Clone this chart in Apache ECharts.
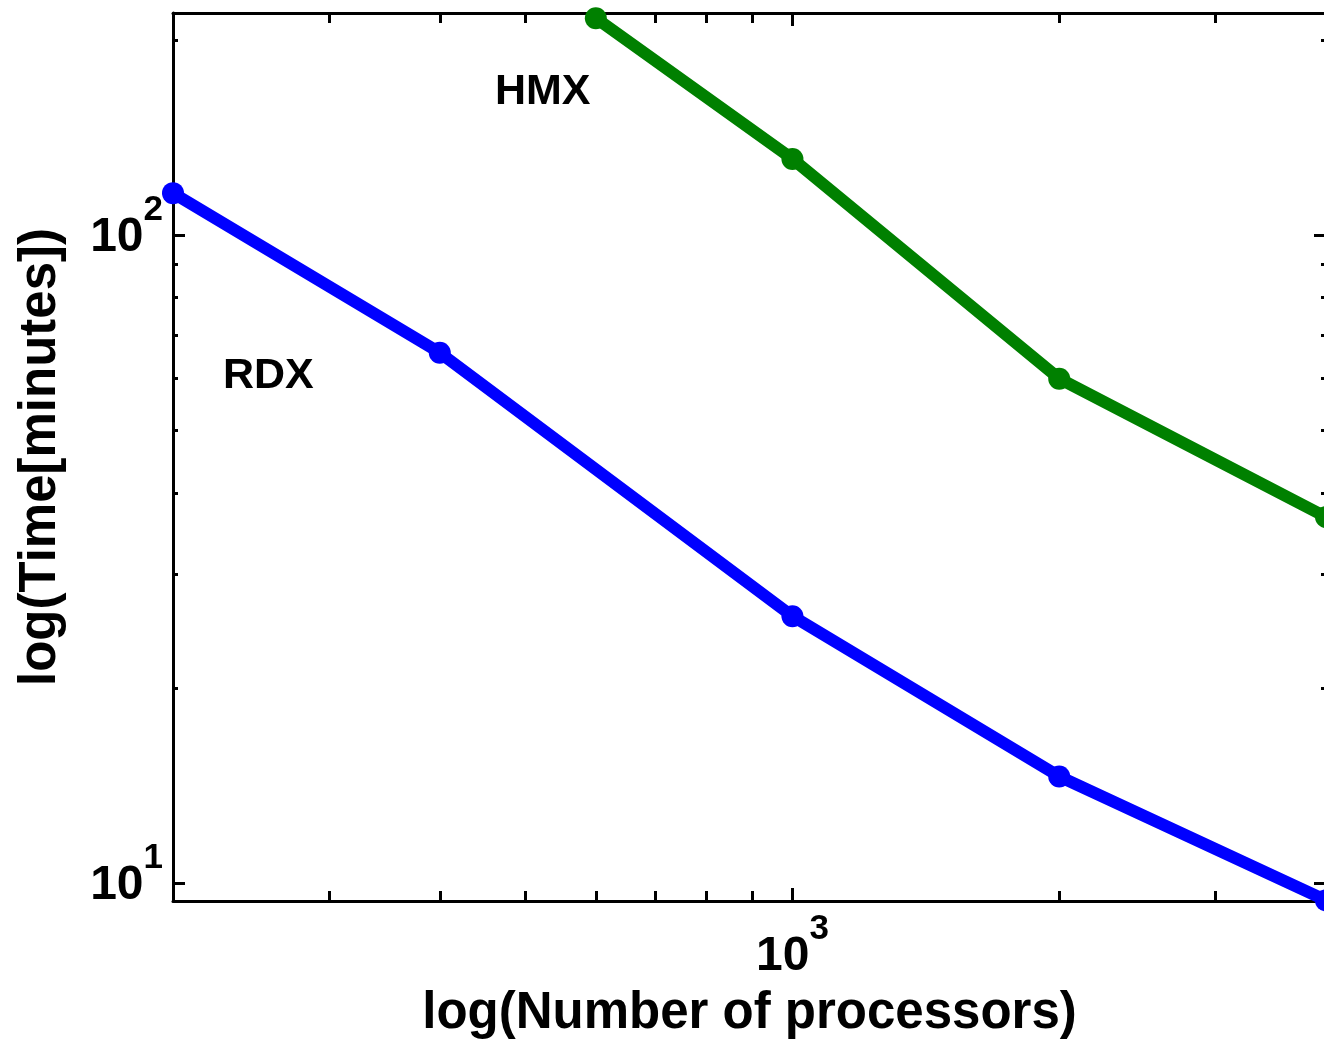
<!DOCTYPE html>
<html>
<head>
<meta charset="utf-8">
<title>RDX / HMX scaling</title>
<script src="https://cdn.jsdelivr.net/npm/echarts@6.0.0/dist/echarts.min.js"></script>
<style>
  html, body { margin: 0; padding: 0; background: #fff; }
  #chart { width: 1324px; height: 1041px; }
</style>
</head>
<body>
<div id="chart"></div>
<script>
// number of processors / time in minutes
const rdxProcs = [200, 400, 1000, 2000, 4000]
const rdxTime = [116, 65.8, 25.8, 14.6, 9.4]
const hmxProcs = [600, 1000, 2000, 4000]
const hmxTime = [216, 131, 60, 36.7]

// tick positions (gnuplot style log ticks)
const xMajorTicks = [1000]
const xMinorTicks = [300, 400, 500, 600, 700, 800, 900, 2000, 3000]
const yMajorTicks = [10, 100]
const yMinorTicks = [20, 30, 40, 50, 60, 70, 80, 90, 200]

const FONT = '"Liberation Sans", Arial, Helvetica, sans-serif'

const chart = echarts.init(document.getElementById('chart'))

// "10" + raised exponent, done with rich text padding
const powRich = {
  b: { fontFamily: FONT, fontWeight: 'bold', fontSize: 48, color: '#000', verticalAlign: 'bottom', padding: [0, 0, 16, 0] },
  s: { fontFamily: FONT, fontWeight: 'bold', fontSize: 35, color: '#000', verticalAlign: 'top', padding: [0, 0, 50, 0] }
}

function powLabel(v) {
  return '{b|10}{s|' + Math.round(Math.log10(v)) + '}'
}

function xAxisCfg(position, ticks, len, major) {
  return {
    type: 'log',
    position: position,
    min: 200,
    max: 4000,
    axisLine: { show: major, lineStyle: { color: '#000', width: 3 } },
    axisTick: { show: true, inside: true, length: len, customValues: ticks, lineStyle: { color: '#000', width: 3 } },
    axisLabel: major && position === 'bottom'
      ? { show: true, customValues: xMajorTicks, margin: 11, formatter: powLabel, rich: powRich }
      : { show: false },
    splitLine: { show: false },
    minorTick: { show: false }
  }
}

function yAxisCfg(position, ticks, len, major) {
  return {
    type: 'log',
    position: position,
    min: 9.38,
    max: 220,
    axisLine: { show: major, lineStyle: { color: '#000', width: 3 } },
    axisTick: { show: true, inside: true, length: len, customValues: ticks, lineStyle: { color: '#000', width: 3 } },
    axisLabel: major && position === 'left'
      ? { show: true, customValues: yMajorTicks, margin: 10, formatter: powLabel, rich: powRich }
      : { show: false },
    splitLine: { show: false },
    minorTick: { show: false }
  }
}

const xAxes = [
  xAxisCfg('bottom', xMajorTicks, 13, true),
  xAxisCfg('bottom', xMinorTicks, 10, false),
  xAxisCfg('top', xMajorTicks, 13, true),
  xAxisCfg('top', xMinorTicks, 10, false)
]
Object.assign(xAxes[0], {
  name: 'log(Number of processors)',
  nameLocation: 'middle',
  nameGap: 87,
  nameTextStyle: { fontFamily: FONT, fontWeight: 'bold', fontSize: 51, color: '#000' }
})

const yAxes = [
  yAxisCfg('left', yMajorTicks, 12, true),
  yAxisCfg('left', yMinorTicks, 5, false),
  yAxisCfg('right', yMajorTicks, 12, true),
  yAxisCfg('right', yMinorTicks, 5, false)
]
Object.assign(yAxes[0], {
  name: 'log(Time[minutes])',
  nameLocation: 'middle',
  nameGap: 107,
  nameTextStyle: { fontFamily: FONT, fontWeight: 'bold', fontSize: 51, color: '#000' }
})

function lineSeries(name, xs, ys, color) {
  return {
    name: name,
    type: 'line',
    data: xs.map((x, i) => [x, ys[i]]),
    xAxisIndex: 0,
    yAxisIndex: 0,
    clip: false,
    symbol: 'circle',
    symbolSize: 22,
    lineStyle: { color: color, width: 12 },
    itemStyle: { color: color },
    animation: false
  }
}

const option = {
  backgroundColor: '#fff',
  animation: false,
  grid: { left: 173, top: 13, right: -2, bottom: 140, containLabel: false, outerBoundsMode: 'none' },
  xAxis: xAxes,
  yAxis: yAxes,
  series: [
    lineSeries('RDX', rdxProcs, rdxTime, '#0000ff'),
    lineSeries('HMX', hmxProcs, hmxTime, '#008000')
  ],
  graphic: [
    { type: 'text', x: 495, y: 92, style: { text: 'HMX', font: 'bold 43px ' + FONT, fill: '#000', textAlign: 'left', textVerticalAlign: 'middle' } },
    { type: 'text', x: 223, y: 376, style: { text: 'RDX', font: 'bold 43px ' + FONT, fill: '#000', textAlign: 'left', textVerticalAlign: 'middle' } }
  ]
}

chart.setOption(option)
</script>
</body>
</html>
